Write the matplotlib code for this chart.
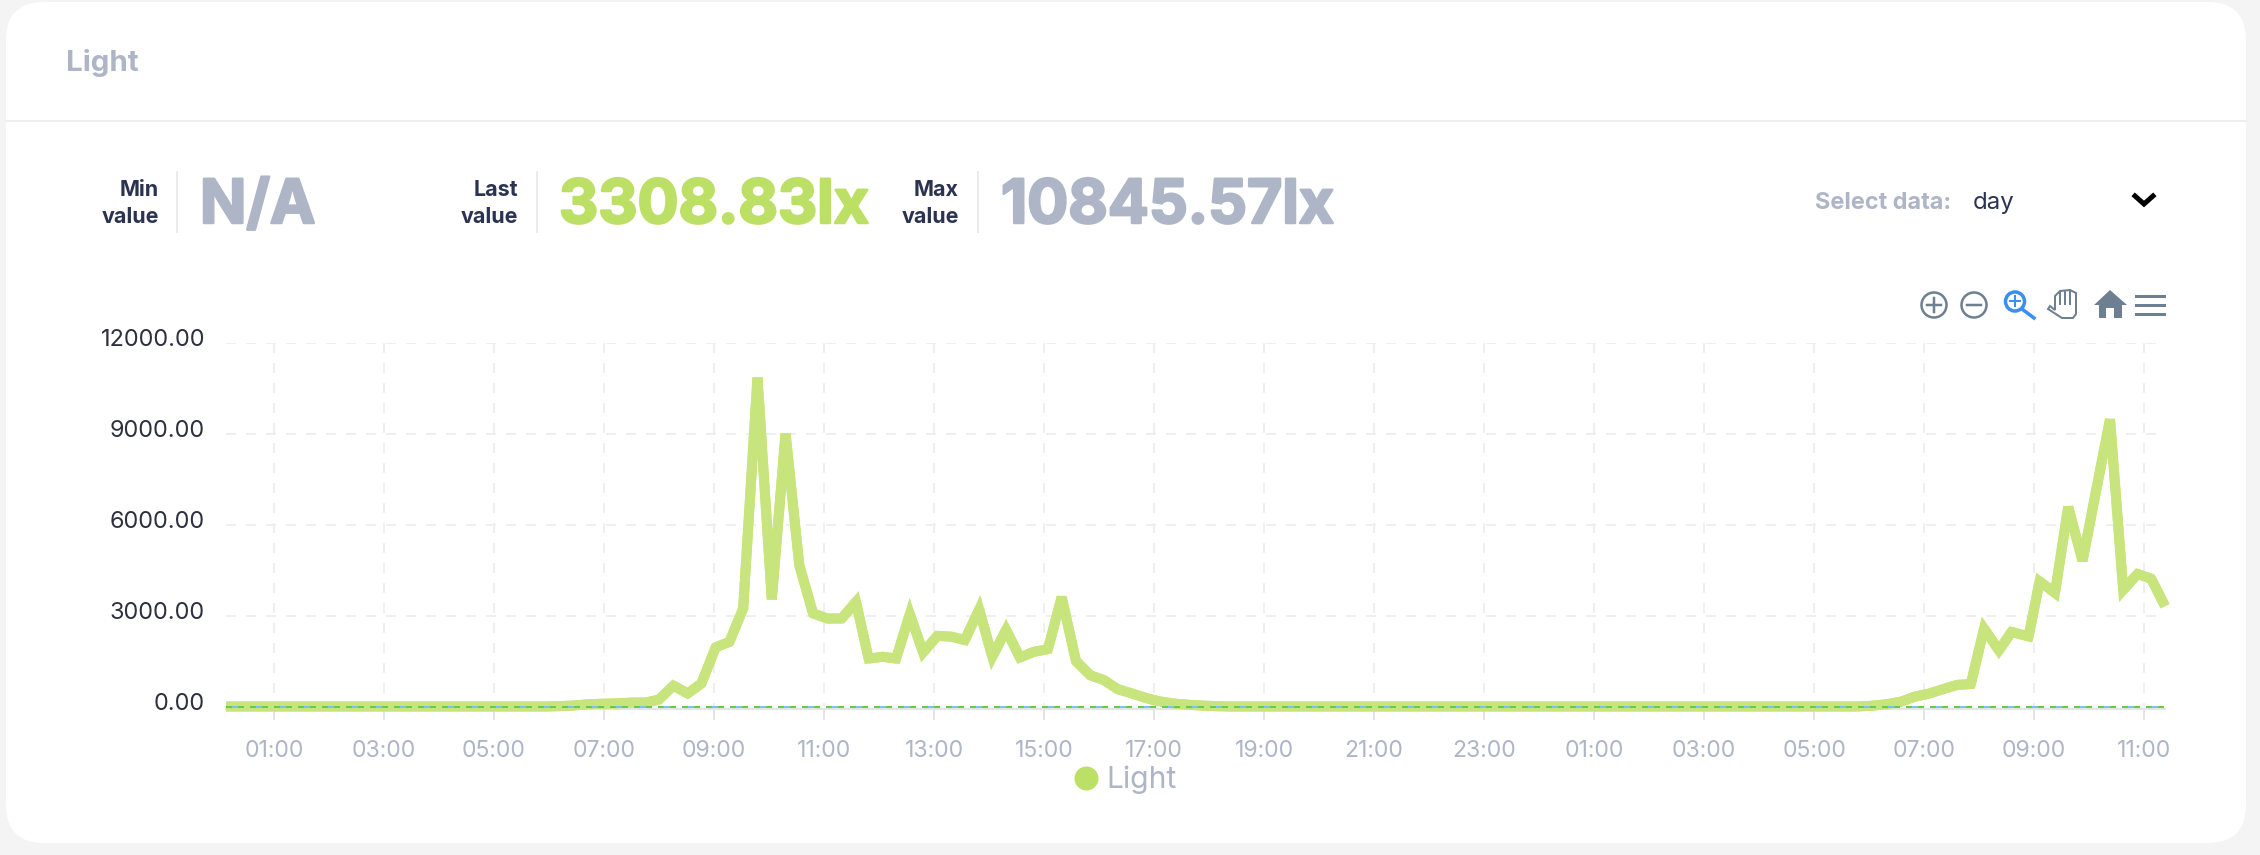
import matplotlib
matplotlib.use('Agg')
import matplotlib.pyplot as plt
import matplotlib.patheffects as pe
import numpy as np
from matplotlib.lines import Line2D
from matplotlib.patches import Circle, FancyBboxPatch, Polygon, Rectangle
from matplotlib.transforms import ScaledTranslation

# readings: hours since midnight of day one, lux
hours_night = [0.13, 0.37, 0.63, 0.88, 1.13, 1.38, 1.64, 1.89, 2.14, 2.39, 2.65, 2.90, 3.15, 3.40,
               3.66, 3.91, 4.16, 4.41, 4.67, 4.92, 5.17, 5.42, 5.68, 5.93, 6.18, 6.43, 6.69, 6.94]
lux_night = [0] * 24 + [10, 30, 70, 90]

hours_day = [7.20, 7.52, 7.76, 8.00, 8.26, 8.52, 8.77, 9.03, 9.28, 9.53, 9.79, 10.05, 10.30, 10.55,
             10.80, 11.06, 11.32, 11.58, 11.81, 12.07, 12.31, 12.56, 12.80, 13.06, 13.32, 13.56,
             13.82, 14.06, 14.31, 14.56, 14.81, 15.07, 15.32, 15.58, 15.84, 16.09, 16.34, 16.60,
             16.86, 17.11, 17.35, 17.63]
lux_day = [100, 130, 130, 230, 690, 430, 760, 1950, 2130, 3230, 10845.57, 3530, 9000, 4660,
           3070, 2900, 2900, 3450, 1580, 1640, 1580, 3050, 1780, 2330, 2300, 2190,
           3200, 1640, 2530, 1615, 1800, 1890, 3610, 1500, 1030, 870, 570, 430,
           275, 165, 100, 55]

hours_night2 = [17.88, 18.13, 18.39, 18.64, 18.89, 19.14, 19.40, 19.65, 19.90, 20.15, 20.41, 20.66,
                20.91, 21.16, 21.42, 21.67, 21.92, 22.17, 22.43, 22.68, 22.93, 23.18, 23.44, 23.69,
                23.94, 24.19, 24.45, 24.70, 24.95, 25.20, 25.46, 25.71, 25.96, 26.21, 26.47, 26.72,
                26.97, 27.22, 27.48, 27.73, 27.98, 28.23, 28.49, 28.74, 28.99, 29.24, 29.50, 29.75]
lux_night2 = [30, 10] + [0] * 46

hours_day2 = [30.02, 30.33, 30.59, 30.84, 31.08, 31.34, 31.61, 31.85, 32.09, 32.36, 32.59, 32.90,
              33.10, 33.38, 33.62, 33.88, 34.38, 34.62, 34.88, 35.13, 35.38]
lux_day2 = [20, 75, 165, 330, 420, 570, 715, 740, 2570, 1850, 2460, 2310,
            4125, 3740, 6580, 4800, 9470, 3840, 4370, 4210, 3308.83]

x_ticks = [1, 3, 5, 7, 9, 11, 13, 15, 17, 19, 21, 23, 25, 27, 29, 31, 33, 35]
x_labels = ['01:00', '03:00', '05:00', '07:00', '09:00', '11:00', '13:00', '15:00', '17:00',
            '19:00', '21:00', '23:00', '01:00', '03:00', '05:00', '07:00', '09:00', '11:00']
y_ticks = [0, 3000, 6000, 9000, 12000]
y_labels = ['0.00', '3000.00', '6000.00', '9000.00', '12000.00']

GREY = '#ADB5C7'
DARK = '#2B3350'
GREEN = '#BCDF66'
ICON = '#6E7F92'
W, H = 2260, 855
px = 0.72  # one pixel in points at dpi 100

plt.rcParams['font.family'] = ['Inter', 'DejaVu Sans']
plt.rcParams['lines.scale_dashes'] = False

fig = plt.figure(figsize=(W / 100, H / 100), dpi=100, facecolor='#F4F4F4')

# page furniture, drawn in pixel coordinates
bg = fig.add_axes([0, 0, 1, 1], zorder=0)
bg.set_xlim(0, W)
bg.set_ylim(H, 0)
bg.axis('off')
bg.add_patch(FancyBboxPatch((6, 2), 2240, 841, boxstyle='round,pad=0,rounding_size=38',
                            fc='white', ec='none'))
bg.plot([6, 2246], [121, 121], color='#EEEEEE', lw=2 * px)

bg.text(66, 71, 'Light', color=GREY, fontsize=29.5 * px, fontweight='bold', va='baseline')

for right, sep, word, left, big, col in [
        (159, 177, 'Min', 200, 'N/A', GREY),
        (518, 537, 'Last', 559, '3308.83lx', GREEN),
        (959, 978, 'Max', 1001, '10845.57lx', GREY)]:
    bg.text(right, 196, word, color=DARK, fontsize=21.5 * px, fontweight='bold', ha='right', va='baseline')
    bg.text(right, 223, 'value', color=DARK, fontsize=21.5 * px, fontweight='bold', ha='right', va='baseline')
    bg.plot([sep, sep], [172, 232], color='#EAEAEA', lw=2 * px)
    bg.text(left, 223, big, color=col, fontsize=60.8 * px, fontweight='bold', va='baseline',
            path_effects=[pe.withStroke(linewidth=2.5 * px, foreground=col)])

bg.text(1815, 209, 'Select data:', color=GREY, fontsize=23.5 * px, fontweight='bold', va='baseline')
bg.text(1973, 209, 'day', color=DARK, fontsize=24 * px, va='baseline')
bg.plot([2135, 2144, 2153], [196, 204, 196], color='black', lw=5 * px, solid_joinstyle='miter')

# toolbar icons
for cx in [1934, 1974]:
    bg.add_patch(Circle((cx, 305), 12.5, fc='none', ec=ICON, lw=2.5 * px))
    bg.plot([cx - 7, cx + 7], [305, 305], color=ICON, lw=2.5 * px)
bg.plot([1934, 1934], [298, 312], color=ICON, lw=2.5 * px)
bg.add_patch(Circle((2015, 301.5), 9.5, fc='none', ec='#3B8FF3', lw=3.5 * px))
bg.plot([2010, 2020], [301.5, 301.5], color='#3B8FF3', lw=2 * px)
bg.plot([2015, 2015], [296.5, 306.5], color='#3B8FF3', lw=2 * px)
bg.plot([2022, 2034], [309, 318], color='#3B8FF3', lw=3.5 * px)
bg.add_patch(Polygon([(2050, 306), (2055, 310), (2055, 296), (2060, 291), (2070, 290), (2076, 293),
                      (2076, 314), (2073, 318), (2062, 318), (2048, 309)],
                     closed=True, fc='white', ec=ICON, lw=2 * px))
for fx in [2060, 2065, 2070]:
    bg.plot([fx, fx], [292, 304], color=ICON, lw=2 * px)
bg.add_patch(Polygon([(2110, 290), (2127, 305), (2122, 305), (2122, 318), (2114, 318), (2114, 308),
                      (2106, 308), (2106, 318), (2099, 318), (2099, 305), (2094, 305)],
                     closed=True, fc=ICON, ec='none'))
for my in [296.5, 305, 314]:
    bg.add_patch(Rectangle((2135, my - 1.5), 31, 3, fc=ICON, ec='none'))

# chart, axes box is 226..2165 by 342.5..706.5 px
ax = fig.add_axes([226 / W, 1 - 706.5 / H, (2165 - 226) / W, 364 / H], zorder=1)
ax.patch.set_alpha(0)
ax.set_xlim(0.127, 35.38)
ax.set_ylim(0, 12000)

hours = hours_night + hours_day + hours_night2 + hours_day2
lux = lux_night + lux_day + lux_night2 + lux_day2

grid_dash = (0, (10 * px, 10 * px))
for t in y_ticks[1:]:
    ax.axhline(t, color='#EFEFEF', lw=2 * px, ls=grid_dash, zorder=1)
for t in x_ticks:
    ax.plot([t, t], [12000, 0], color='#EFEFEF', lw=2 * px, ls=grid_dash, zorder=1)

# the browser bevels joins with a miter ratio above 4, matplotlib only above 10:
# bevel the whole line, then lay mitered runs over it, split at the sharp vertices
line_kw = dict(color='#C7E57C', lw=10 * px, solid_capstyle='butt', clip_on=False, zorder=3)
ax.plot(hours, lux, solid_joinstyle='bevel', **line_kw)
pts = ax.transData.transform(np.column_stack([hours, lux]))
start = 0
for i in range(1, len(hours) - 1):
    a = pts[i - 1] - pts[i]
    b = pts[i + 1] - pts[i]
    turn = np.arccos(np.clip(a @ b / (np.linalg.norm(a) * np.linalg.norm(b)), -1, 1))
    if 1 / np.sin(turn / 2) > 4:
        ax.plot(hours[start:i + 1], lux[start:i + 1], solid_joinstyle='miter', **line_kw)
        start = i
ax.plot(hours[start:], lux[start:], solid_joinstyle='miter', **line_kw)

ax.axhline(0, color='#84BDF0', lw=2 * px, ls=(0, (18 * px, 6 * px)), clip_on=False, zorder=4)
ax.axhline(0, color='#66CC44', lw=2 * px, ls=(0, (6 * px, 6 * px)), clip_on=False, zorder=5)

for side in ['top', 'right', 'left']:
    ax.spines[side].set_visible(False)
ax.spines['bottom'].set_position(('outward', 2 * px))
ax.spines['bottom'].set_color('#E4E4E4')
ax.spines['bottom'].set_linewidth(2 * px)
ax.set_xticks(x_ticks, x_labels)
ax.set_yticks(y_ticks, y_labels)
ax.tick_params(axis='x', length=11.5 * px, width=2 * px, color='#E4E4E4', pad=20 * px,
               labelsize=23 * px, labelcolor=GREY)
ax.tick_params(axis='y', length=0, pad=21 * px, labelsize=23.5 * px, labelcolor='#2E3040')
shift = ScaledTranslation(0, 5 / 100, fig.dpi_scale_trans)
for lab in ax.get_yticklabels():
    lab.set_transform(lab.get_transform() + shift)

handle = Line2D([], [], ls='none', marker='o', ms=24 * px, color=GREEN, mew=0)
ax.legend([handle], ['Light'], loc='center', bbox_to_anchor=(1125 / W, 1 - 780 / H),
          bbox_transform=fig.transFigure, frameon=False, fontsize=30 * px, labelcolor=GREY,
          handlelength=0.8, handletextpad=0.27, borderpad=0, borderaxespad=0)

fig.savefig('out.png', dpi=100, facecolor=fig.get_facecolor())
